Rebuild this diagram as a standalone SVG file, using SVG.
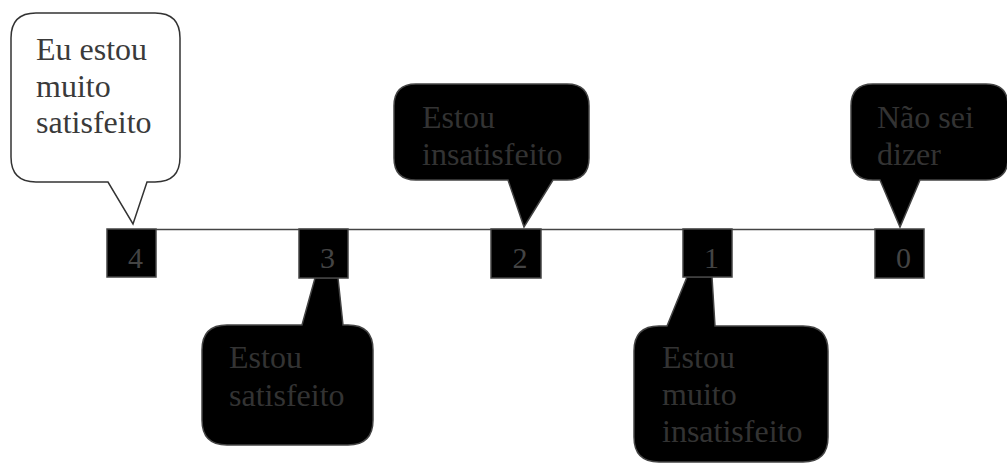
<svg xmlns="http://www.w3.org/2000/svg" width="1007" height="464" viewBox="0 0 1007 464">
<style>
.cw{fill:#ffffff;stroke:#333333;stroke-width:1.5}
.cb{fill:#000000;stroke:#444444;stroke-width:1.5}
.box{fill:#000000;stroke:#444444;stroke-width:1.5}
.t{font-family:"Liberation Serif","Times New Roman",serif;font-size:32px}
.tw{fill:#3a3a3a}
.tb{fill:#333333}
.d{font-family:"Liberation Serif","Times New Roman",serif;font-size:30px;fill:#444444;text-anchor:middle}
.ln{stroke:#444444;stroke-width:1.5;fill:none}
</style>
<g id="connectors">
<line class="ln" x1="156" y1="229.5" x2="875" y2="229.5"/>
</g>
<g id="callout-4">
<path class="cw" d="M36,13 H155 Q180,13 180,38 V157 Q180,182 155,182 H147 L133,224 L108,182 H36 Q11,182 11,157 V38 Q11,13 36,13 Z"/>
<text class="t tw" x="36" y="60">Eu estou</text>
<text class="t tw" x="36" y="96.5">muito</text>
<text class="t tw" x="36" y="133">satisfeito</text>
</g>
<g id="callout-2">
<path class="cb" d="M416,84 H567 Q589,84 589,106 V158 Q589,180 567,180 H553 L524,227 L508,180 H416 Q394,180 394,158 V106 Q394,84 416,84 Z"/>
<text class="t tb" x="422" y="128">Estou</text>
<text class="t tb" x="422" y="165">insatisfeito</text>
</g>
<g id="callout-0">
<path class="cb" d="M873,84 H986 Q1008,84 1008,106 V158 Q1008,180 986,180 H920 L900,227 L880,180 H873 Q851,180 851,158 V106 Q851,84 873,84 Z"/>
<text class="t tb" x="877" y="128">Não sei</text>
<text class="t tb" x="877" y="165">dizer</text>
</g>
<g id="callout-3">
<path class="cb" d="M227,325 H302 L315,278 H338 L343,325 H348 Q373,325 373,350 V420 Q373,445 348,445 H227 Q202,445 202,420 V350 Q202,325 227,325 Z"/>
<text class="t tb" x="229" y="368">Estou</text>
<text class="t tb" x="229" y="406">satisfeito</text>
</g>
<g id="callout-1">
<path class="cb" d="M659,326 H667 L687,277 H712 L715,326 H803 Q828,326 828,351 V437 Q828,462 803,462 H659 Q634,462 634,437 V351 Q634,326 659,326 Z"/>
<text class="t tb" x="662" y="368">Estou</text>
<text class="t tb" x="662" y="405">muito</text>
<text class="t tb" x="662" y="442">insatisfeito</text>
</g>
<g id="box-4">
<rect class="box" x="107" y="229" width="49" height="48"/>
<text class="d" x="135.5" y="268">4</text>
</g>
<g id="box-3">
<rect class="box" x="299" y="229" width="49" height="49"/>
<text class="d" x="327.5" y="268">3</text>
</g>
<g id="box-2">
<rect class="box" x="491" y="229" width="50" height="49"/>
<text class="d" x="520" y="268">2</text>
</g>
<g id="box-1">
<rect class="box" x="683" y="229" width="49" height="48"/>
<text class="d" x="711.5" y="268">1</text>
</g>
<g id="box-0">
<rect class="box" x="875" y="229" width="49" height="49"/>
<text class="d" x="903.5" y="268">0</text>
</g>
</svg>
